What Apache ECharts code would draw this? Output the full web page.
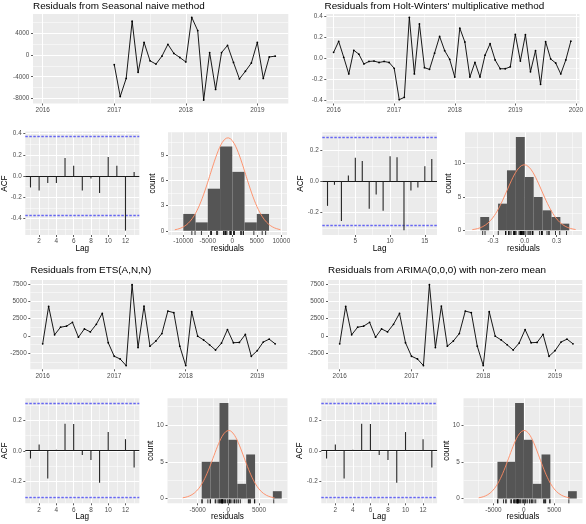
<!DOCTYPE html>
<html>
<head>
<meta charset="utf-8">
<script src="https://cdn.jsdelivr.net/npm/echarts@6/dist/echarts.min.js"></script>
<style>
html,body{margin:0;padding:0;background:#ffffff;}
#chart{width:586px;height:524px;}
</style>
</head>
<body>
<div id="chart"></div>
<script>
// ---------------- DATA ----------------
// Monthly residuals, all series start January 2016.
const seriesStartYear = 2016;

// Seasonal naive residuals (first 12 months undefined)
const snaiveResid = [
  null, null, null, null, null, null, null, null, null, null, null, null,
  -1800, -7600, -4300, 6100, -3200, 2250, -1100, -1700, -250, 1900, 250, -500,
  -1300, 6800, 4400, -8250, 400, -6300, 400, 1700, -1400, -4400, -3000, -1500,
  2250, -4300, -400, -250
];
// Holt-Winters' multiplicative residuals
const hwResid = [
  0.058, 0.163, 0.010, -0.150, 0.077, 0.040, -0.054, -0.030, -0.026, -0.040, -0.030, -0.040,
  -0.096, -0.397, -0.375, 0.394, -0.150, 0.330, -0.090, -0.106, 0.050, 0.210, 0.074, -0.010,
  -0.180, 0.290, 0.157, -0.180, -0.038, -0.180, 0.030, 0.140, -0.016, -0.100, -0.100, -0.082,
  0.230, -0.026, 0.227, -0.130, 0.074, -0.250, 0.160, -0.006, -0.045, -0.150, -0.016, 0.165
];
// ETS(A,N,N) residuals
const etsResid = [
  -1150, 4250, 150, 1250, 1400, 1950, -200, 1000, 570, 1670, 3250, -1000,
  -2950, -3350, -4300, 7400, -1700, 4300, -1500, -750, 330, 3580, 3350, -1500,
  -4300, 3490, -50, -600, -1300, -2050, -1050, 900, -1000, -950, 200, -2950,
  -2150, -900, -480, -1150
];
// ARIMA(0,0,0) with non-zero mean residuals
const arimaResid = [
  -1150, 4250, 150, 1250, 1400, 1950, -200, 1000, 570, 1670, 3250, -1000,
  -2950, -3350, -4300, 7400, -1700, 4300, -1500, -750, 330, 3580, 3350, -1500,
  -4300, 3490, -50, -600, -1300, -2050, -1050, 900, -1000, -950, 200, -2950,
  -2150, -900, -480, -1150
];

// ACF values (lag 1, 2, ...)
const snaiveAcf = [-0.107, -0.135, -0.066, -0.066, 0.170, 0.098, -0.135, -0.022, -0.160, 0.180, 0.098, -0.513, 0.038];
const hwAcf = [-0.157, -0.022, -0.254, 0.037, 0.151, 0.131, -0.176, -0.084, -0.189, 0.161, 0.155, -0.314, -0.058, -0.039, 0.097, 0.144];
const etsAcf = [-0.051, 0.042, -0.183, 0.007, 0.179, 0.177, -0.027, -0.060, -0.212, 0.124, 0.003, 0.077, -0.110];
const arimaAcf = [-0.051, 0.042, -0.183, 0.007, 0.179, 0.177, -0.027, -0.060, -0.212, 0.124, 0.003, 0.077, -0.110];

// ACF confidence bounds (dashed blue lines)
const snaiveCi = 0.375;
const hwCi = 0.283;
const etsCi = 0.310;
const arimaCi = 0.310;

// Histogram counts, first bin edge and bin width
const snaiveHistCounts = [2, 1, 5, 10, 7, 1, 2];
const snaiveHistStart = -10000, snaiveHistWidth = 2500;
const hwHistCounts = [2, 0, 4, 9, 14, 8, 5, 3, 2, 1];
const hwHistStart = -0.42, hwHistWidth = 0.084;
const etsHistCounts = [5, 5, 13, 8, 2, 6, 0, 0, 1];
const etsHistStart = -4350, etsHistWidth = 1450;
const arimaHistCounts = [5, 5, 13, 8, 2, 6, 0, 0, 1];
const arimaHistStart = -4350, arimaHistWidth = 1450;

// Text
const titles = [
  'Residuals from Seasonal naive method',
  "Residuals from Holt-Winters' multiplicative method",
  'Residuals from ETS(A,N,N)',
  'Residuals from ARIMA(0,0,0) with non-zero mean'
];
const acfYLabel = 'ACF', acfXLabel = 'Lag', histYLabel = 'count', histXLabel = 'residuals';

// ---------------- LAYOUT ----------------
const FONT = '"Liberation Sans", Arial, Helvetica, sans-serif';
const TICK_FS = 6.4, TITLE_FS = 9.9, NAME_FS = 8.2;

const layout = {
  snaiveTS:  {rect: [33, 14, 255.3, 89.5],     x: {min: 2015.864, max: 2019.433, step: 1},    y: {min: -8870, max: 7420, step: 4000}},
  hwTS:      {rect: [326.3, 14, 256, 89.5],    x: {min: 2015.879, max: 2020.06, step: 1},     y: {min: -0.434, max: 0.426, step: 0.2}},
  snaiveAcf: {rect: [25.3, 131.6, 114, 103.4], x: {min: 0.4, max: 13.6, step: 2},             y: {min: -0.554, max: 0.418, step: 0.2}},
  snaiveHist:{rect: [168, 132.3, 119, 102.7],  x: {min: -13120, max: 11160, step: 5000},      y: {min: -0.5, max: 11.7, step: 3}},
  hwAcf:     {rect: [322.3, 132.3, 114.7, 102.7], x: {min: 0.25, max: 16.75, step: 5},        y: {min: -0.344, max: 0.315, step: 0.2}},
  hwHist:    {rect: [465, 132.3, 117, 102.7],  x: {min: -0.564, max: 0.540, step: 0.3},       y: {min: -0.7, max: 14.7, step: 5}},
  etsTS:     {rect: [30.3, 280, 257, 89.3],    x: {min: 2015.827, max: 2019.42, step: 1},     y: {min: -4840, max: 8075, step: 2500}},
  etsAcf:    {rect: [25.3, 398.3, 114, 105],   x: {min: 0.4, max: 13.6, step: 2},             y: {min: -0.347, max: 0.347, step: 0.2}},
  etsHist:   {rect: [167.5, 398.3, 120, 105],  x: {min: -9933, max: 9640, step: 5000},        y: {min: -0.65, max: 13.65, step: 5}},
  arimaTS:   {rect: [328, 280, 254.3, 89.3],   x: {min: 2015.837, max: 2019.38, step: 1},     y: {min: -4840, max: 8075, step: 2500}},
  arimaAcf:  {rect: [321.3, 398.3, 115.8, 105], x: {min: 0.4, max: 13.6, step: 2},            y: {min: -0.347, max: 0.347, step: 0.2}},
  arimaHist: {rect: [463.5, 398.3, 119, 105],  x: {min: -9933, max: 9640, step: 5000},        y: {min: -0.65, max: 13.65, step: 5}}
};

// ---------------- BUILD ----------------
const grids = [], xAxes = [], yAxes = [], series = [], graphics = [];

function majors(r) {
  const out = [];
  const k0 = Math.ceil(r.min / r.step - 1e-9), k1 = Math.floor(r.max / r.step + 1e-9);
  for (let k = k0; k <= k1; k++) out.push(+(k * r.step).toFixed(6));
  return out;
}
function isMajor(v, step) {
  const q = v / step;
  return Math.abs(q - Math.round(q)) < 1e-6;
}
const fmtInt = v => String(Math.round(v));
const fmt1 = v => (Math.abs(v) < 1e-9 ? '0.0' : v.toFixed(1));

function axisDef(gi, dim, r, fmt) {
  const vals = majors(r);
  return {
    type: 'value', gridIndex: gi, min: r.min, max: r.max,
    minInterval: r.step, maxInterval: r.step, splitNumber: 5,
    position: dim === 'x' ? 'bottom' : 'left',
    axisLine: {show: false, onZero: false},
    axisTick: {show: true, length: 2, customValues: vals, lineStyle: {color: '#333333', width: 0.8}},
    axisLabel: {
      show: true, customValues: vals, margin: 3.6, fontSize: TICK_FS, color: '#4D4D4D', fontFamily: FONT,
      formatter: v => (isMajor(v, r.step) ? fmt(v) : '')
    },
    splitLine: {show: true, lineStyle: {color: '#FFFFFF', width: 1}},
    minorTick: {show: false, splitNumber: 2},
    minorSplitLine: {show: true, lineStyle: {color: '#FFFFFF', width: 0.5}}
  };
}

function addPanel(L, xfmt, yfmt) {
  const gi = grids.length;
  grids.push({left: L.rect[0], top: L.rect[1], width: L.rect[2], height: L.rect[3],
              show: true, backgroundColor: '#EBEBEB', borderWidth: 0, containLabel: false});
  xAxes.push(axisDef(gi, 'x', L.x, xfmt));
  yAxes.push(axisDef(gi, 'y', L.y, yfmt));
  return gi;
}

function addText(text, x, y, size, opts) {
  opts = opts || {};
  graphics.push({
    type: 'text', x: x, y: y, rotation: opts.rot || 0, silent: true, z: 100,
    style: {
      text: text, fill: opts.color || '#000000', fontSize: size, fontFamily: FONT,
      align: opts.align || 'left', verticalAlign: 'middle',
      textAlign: opts.align || 'left', textVerticalAlign: 'middle'
    }
  });
}

function addTS(L, resid, yfmt) {
  const gi = addPanel(L, fmtInt, yfmt);
  const pts = [];
  resid.forEach((v, i) => { if (v !== null) pts.push([seriesStartYear + i / 12, v]); });
  series.push({
    type: 'line', xAxisIndex: gi, yAxisIndex: gi, data: pts, silent: true,
    showSymbol: true, symbol: 'circle', symbolSize: 1.8,
    itemStyle: {color: '#000000'}, lineStyle: {color: '#000000', width: 0.9}
  });
}

// horizontal reference lines across the whole panel (snapped to the pixel grid)
function hLineSeries(gi, values, style) {
  return {
    type: 'custom', xAxisIndex: gi, yAxisIndex: gi, silent: true, z: 2,
    data: values.map(v => [1, v]),
    encode: {x: 0, y: 1},
    renderItem: (params, api) => {
      const cs = params.coordSys;
      const y = Math.floor(api.coord([api.value(0), api.value(1)])[1]) + 0.5;
      return {type: 'line', shape: {x1: cs.x, y1: y, x2: cs.x + cs.width, y2: y},
              style: Object.assign({}, style)};
    }
  };
}

function addAcf(L, acf, ci) {
  const gi = addPanel(L, fmtInt, fmt1);
  series.push(hLineSeries(gi, [0], {stroke: '#1a1a1a', lineWidth: 1}));
  series.push(hLineSeries(gi, [ci, -ci], {stroke: '#6666f2', lineWidth: 1.4, lineDash: [2.5, 1.5]}));
  // ACF spikes
  series.push({
    type: 'custom', xAxisIndex: gi, yAxisIndex: gi, silent: true, z: 3,
    data: acf.map((v, i) => [i + 1, v]),
    encode: {x: 0, y: 1},
    renderItem: (params, api) => {
      const p0 = api.coord([api.value(0), 0]);
      const p1 = api.coord([api.value(0), api.value(1)]);
      return {type: 'line', shape: {x1: p0[0], y1: p0[1], x2: p1[0], y2: p1[1]},
              style: {stroke: '#262626', lineWidth: 1.1}};
    }
  });
}

function addHist(L, resid, counts, start, width, xfmt) {
  const gi = addPanel(L, xfmt, fmtInt);
  series.push({
    type: 'custom', xAxisIndex: gi, yAxisIndex: gi, silent: true,
    data: counts.map((c, i) => [start + i * width, start + (i + 1) * width, c]),
    encode: {x: [0, 1], y: 2},
    renderItem: (params, api) => {
      const c = api.value(2);
      if (!c) return {type: 'group', children: []};
      const a = api.coord([api.value(0), c]);
      const b = api.coord([api.value(1), 0]);
      return {type: 'rect', shape: {x: a[0], y: a[1], width: b[0] - a[0], height: b[1] - a[1]},
              style: {fill: '#555555'}};
    }
  });
  // normal density curve fitted to the residuals (scaled to counts)
  const vals = resid.filter(v => v !== null);
  const n = resid.length;
  const mean = vals.reduce((s, v) => s + v, 0) / vals.length;
  const sd = Math.sqrt(vals.reduce((s, v) => s + (v - mean) * (v - mean), 0) / (vals.length - 1));
  const curve = [];
  const NPTS = 160;
  for (let k = 0; k < NPTS; k++) {
    const x = mean - 3 * sd + (6 * sd) * k / (NPTS - 1);
    const z = (x - mean) / sd;
    curve.push([x, n * width * Math.exp(-0.5 * z * z) / (sd * Math.sqrt(2 * Math.PI))]);
  }
  series.push({
    type: 'line', xAxisIndex: gi, yAxisIndex: gi, data: curve, silent: true,
    showSymbol: false, smooth: false, lineStyle: {color: '#ff8a62', width: 0.9}
  });
  // rug
  series.push({
    type: 'custom', xAxisIndex: gi, yAxisIndex: gi, silent: true,
    data: vals.map(v => [v, 0]),
    encode: {x: 0, y: 1},
    renderItem: (params, api) => {
      const cs = params.coordSys;
      const x = api.coord([api.value(0), 0])[0];
      const yb = cs.y + cs.height;
      return {type: 'line', shape: {x1: x, y1: yb, x2: x, y2: yb - 4}, style: {stroke: '#000000', lineWidth: 0.8}};
    }
  });
}

// Panels
addTS(layout.snaiveTS, snaiveResid, fmtInt);
addTS(layout.hwTS, hwResid, fmt1);
addAcf(layout.snaiveAcf, snaiveAcf, snaiveCi);
addHist(layout.snaiveHist, snaiveResid, snaiveHistCounts, snaiveHistStart, snaiveHistWidth, fmtInt);
addAcf(layout.hwAcf, hwAcf, hwCi);
addHist(layout.hwHist, hwResid, hwHistCounts, hwHistStart, hwHistWidth, fmt1);
addTS(layout.etsTS, etsResid, fmtInt);
addAcf(layout.etsAcf, etsAcf, etsCi);
addHist(layout.etsHist, etsResid, etsHistCounts, etsHistStart, etsHistWidth, fmtInt);
addTS(layout.arimaTS, arimaResid, fmtInt);
addAcf(layout.arimaAcf, arimaAcf, arimaCi);
addHist(layout.arimaHist, arimaResid, arimaHistCounts, arimaHistStart, arimaHistWidth, fmtInt);

// Titles
addText(titles[0], 33, 6.5, TITLE_FS);
addText(titles[1], 324.5, 6.5, TITLE_FS);
addText(titles[2], 30.5, 270.5, TITLE_FS);
addText(titles[3], 328, 270.5, TITLE_FS);

// Axis names
const R90 = Math.PI / 2;
[[4.8, 183.6], [301.2, 183.6], [4.8, 450.8], [300.2, 450.8]].forEach(p =>
  addText(acfYLabel, p[0], p[1], NAME_FS, {rot: R90, align: 'center'}));
[[152.5, 183.6], [448.5, 183.6], [150.5, 450.8], [446.5, 450.8]].forEach(p =>
  addText(histYLabel, p[0], p[1], NAME_FS, {rot: R90, align: 'center'}));
[[82.3, 249], [379.6, 249], [82.3, 517], [379.2, 517]].forEach(p =>
  addText(acfXLabel, p[0], p[1], NAME_FS, {align: 'center'}));
[[227.5, 249], [523.5, 249], [227.5, 517], [523, 517]].forEach(p =>
  addText(histXLabel, p[0], p[1], NAME_FS, {align: 'center'}));

const chart = echarts.init(document.getElementById('chart'), null, {renderer: 'canvas'});
chart.setOption({
  animation: false,
  backgroundColor: '#FFFFFF',
  grid: grids,
  xAxis: xAxes,
  yAxis: yAxes,
  series: series,
  graphic: graphics
});
</script>
</body>
</html>
